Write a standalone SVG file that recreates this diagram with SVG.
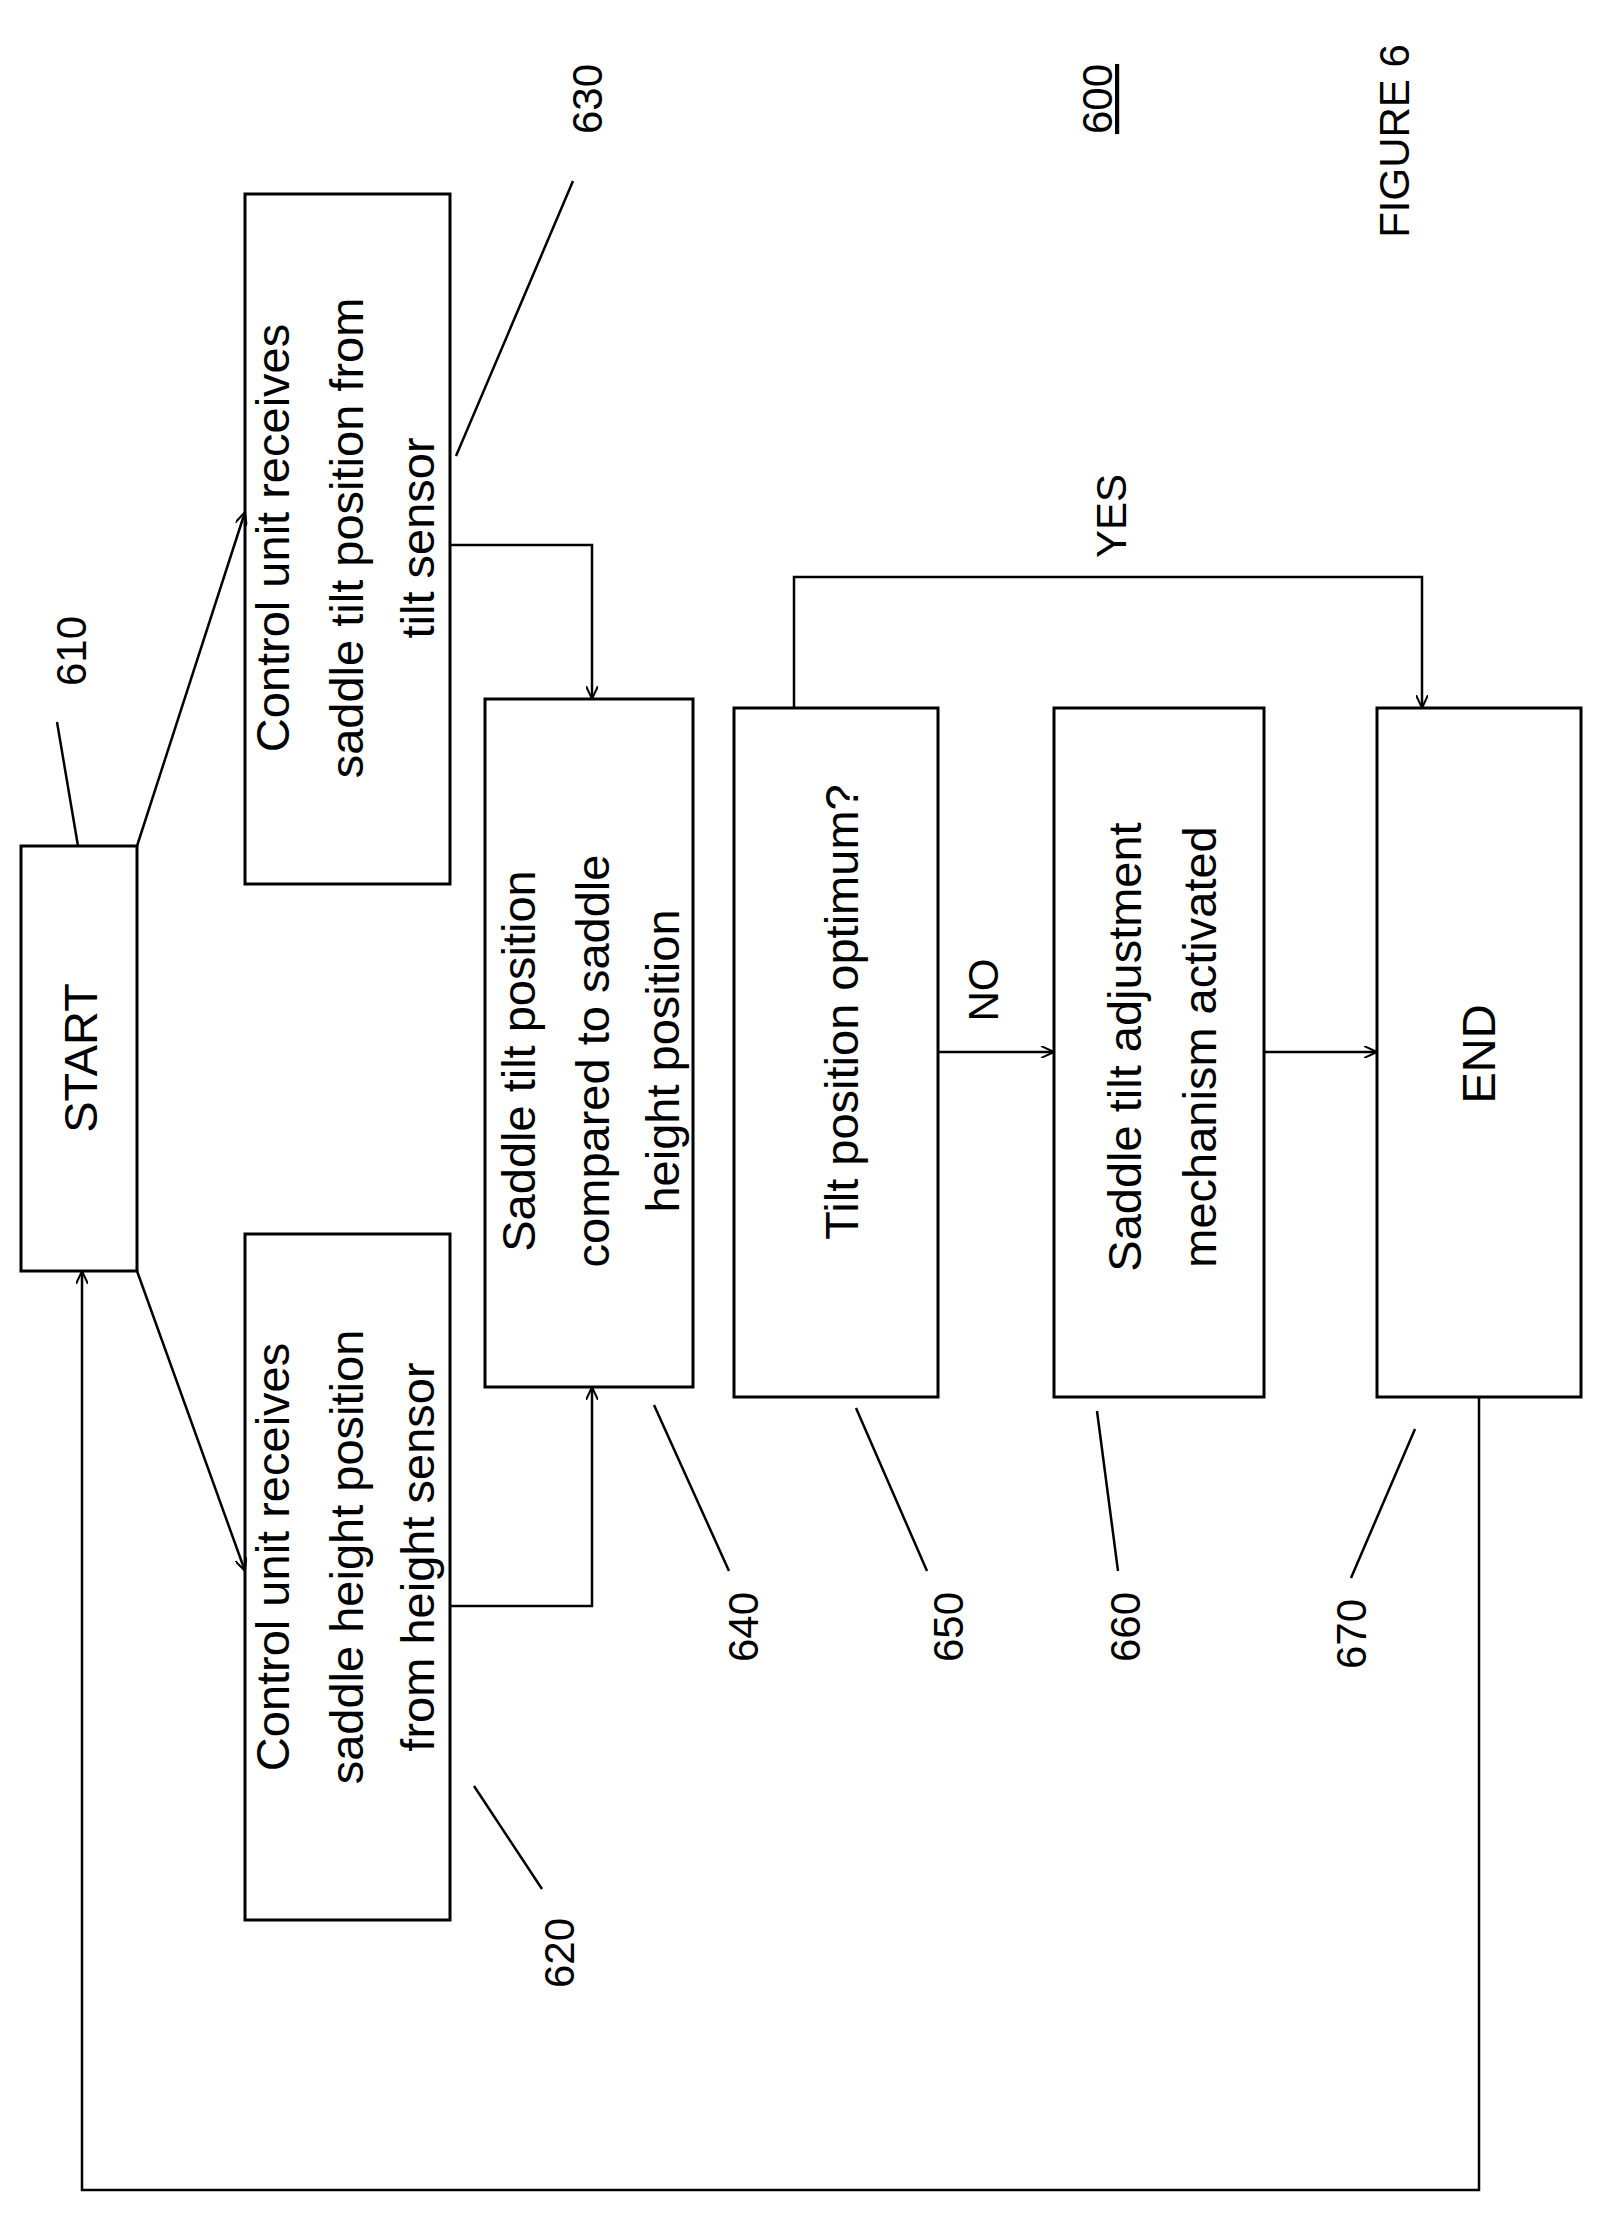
<svg xmlns="http://www.w3.org/2000/svg" width="1605" height="2219" viewBox="0 0 1605 2219">
<style>
.b{fill:#fff;stroke:#000;stroke-width:3}
.t{font-family:"Liberation Sans",Arial,sans-serif;font-size:42px;text-anchor:middle;fill:#000}
.n{font-size:47px}
.l{fill:none;stroke:#000;stroke-width:2.5}
</style>
<defs><marker id="a" markerWidth="14" markerHeight="12" refX="13" refY="6" orient="auto" markerUnits="userSpaceOnUse"><path d="M0,0 L13,6 L0,12" fill="none" stroke="#000" stroke-width="2"/></marker></defs>
<rect width="1605" height="2219" fill="#fff"/>
<g id="n610"><rect class="b" x="21" y="846" width="116" height="425"/><text class="t n" transform="translate(81,1058) rotate(-90)" y="16">START</text></g>
<g id="n630"><rect class="b" x="245" y="194" width="205" height="690"/><text class="t n" transform="translate(347,538) rotate(-90)"><tspan x="0" y="-58">Control unit receives</tspan><tspan x="0" y="16">saddle tilt position from</tspan><tspan x="0" y="87">tilt sensor</tspan></text></g>
<g id="n620"><rect class="b" x="245" y="1234" width="205" height="686"/><text class="t n" transform="translate(347,1557) rotate(-90)"><tspan x="0" y="-58">Control unit receives</tspan><tspan x="0" y="16">saddle height position</tspan><tspan x="0" y="87">from height sensor</tspan></text></g>
<g id="n640"><rect class="b" x="485" y="699" width="208" height="688"/><text class="t n" transform="translate(595,1061) rotate(-90)"><tspan x="0" y="-60">Saddle tilt position</tspan><tspan x="0" y="14">compared to saddle</tspan><tspan x="0" y="84">height position</tspan></text></g>
<g id="n650"><rect class="b" x="734" y="708" width="204" height="689"/><text class="t n" transform="translate(842,1012) rotate(-90)" y="16">Tilt position optimum?</text></g>
<g id="n660"><rect class="b" x="1054" y="708" width="210" height="689"/><text class="t n" transform="translate(1162,1047) rotate(-90)"><tspan x="0" y="-21">Saddle tilt adjustment</tspan><tspan x="0" y="54">mechanism activated</tspan></text></g>
<g id="n670"><rect class="b" x="1377" y="708" width="204" height="689"/><text class="t n" transform="translate(1479,1054) rotate(-90)" y="16">END</text></g>
<g id="connectors">
<path class="l" d="M137,846 L245,512" marker-end="url(#a)"/>
<path class="l" d="M137,1271 L245,1571" marker-end="url(#a)"/>
<path class="l" d="M450,545 H592 V699" marker-end="url(#a)"/>
<path class="l" d="M450,1606 H592 V1387" marker-end="url(#a)"/>
<path class="l" d="M794,708 V577 H1422 V708" marker-end="url(#a)"/>
<path class="l" d="M938,1052 H1054" marker-end="url(#a)"/>
<path class="l" d="M1264,1052 H1377" marker-end="url(#a)"/>
<path class="l" d="M1479,1397 V2190 H82 V1271" marker-end="url(#a)"/>
<path class="l" d="M78,846 L57,722 M456,456 L573,181 M474,1786 L542,1889 M654,1405 L729,1571 M856,1408 L927,1571 M1097,1411 L1118,1571 M1415,1429 L1351,1578"/>
</g>
<g id="labels" class="t">
<text transform="translate(71,651) rotate(-90)" y="15">610</text>
<text transform="translate(587,99) rotate(-90)" y="15">630</text>
<text transform="translate(559,1953) rotate(-90)" y="15">620</text>
<text transform="translate(743,1627) rotate(-90)" y="15">640</text>
<text transform="translate(948,1627) rotate(-90)" y="15">650</text>
<text transform="translate(1125,1627) rotate(-90)" y="15">660</text>
<text transform="translate(1351,1634) rotate(-90)" y="15">670</text>
<text transform="translate(1097,99) rotate(-90)" y="15" text-decoration="underline">600</text>
<text transform="translate(1394,141) rotate(-90)" y="15">FIGURE 6</text>
<text transform="translate(1111,516) rotate(-90)" y="15">YES</text>
<text transform="translate(983,990) rotate(-90)" y="15">NO</text>
</g>
</svg>
